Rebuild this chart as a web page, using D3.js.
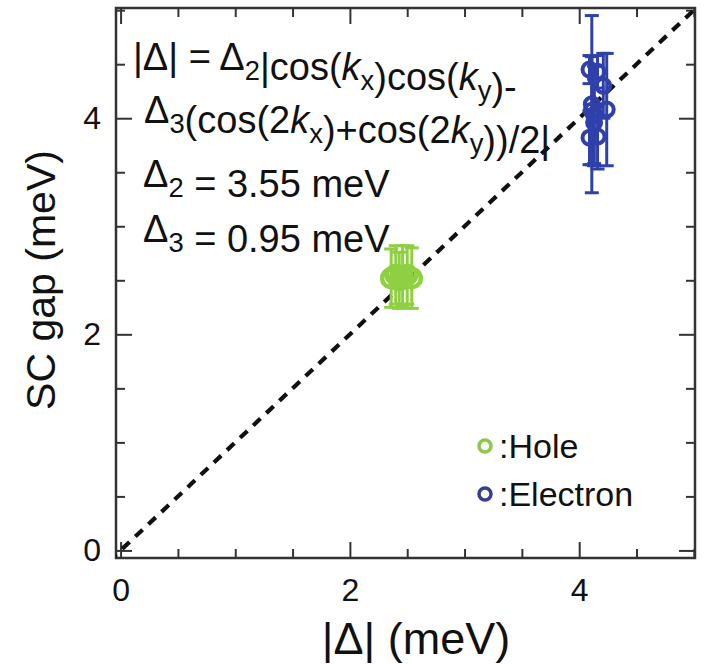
<!DOCTYPE html>
<html>
<head>
<meta charset="utf-8">
<script src="https://cdn.jsdelivr.net/npm/d3@7"></script>
<style>
  html, body { margin: 0; padding: 0; background: #fff; }
  svg { display: block; font-family: "Liberation Sans", Arial, Helvetica, sans-serif; }
</style>
</head>
<body>
<svg id="chart" width="706" height="664"></svg>
<script>
// Hole pockets: |Δ| from the fit vs measured SC gap
const holeX   = [2.36, 2.40, 2.43, 2.46, 2.50, 2.54];
const holeY   = [2.52, 2.55, 2.50, 2.54, 2.55, 2.52];
const holeErr = [0.27, 0.27, 0.26, 0.28, 0.27, 0.28];

// Electron pockets
const elecX   = [4.09, 4.16, 4.11, 4.24, 4.13, 4.09, 4.16, 4.11, 4.21, 4.13];
const elecY   = [4.45, 4.43, 4.07, 4.08, 4.03, 3.82, 3.83, 4.13, 4.30, 3.96];
const elecErr = [0.13, 0.15, 0.50, 0.52, 0.45, 0.25, 0.30, 0.82, 0.30, 0.40];

const majorTicks = [0, 2, 4];
const minorTicks = [0.5, 1, 1.5, 2.5, 3, 3.5, 4.5, 5];

const holeColor = "#8fd043";
const elecColor = "#2f40aa";

const svg = d3.select("#chart");
const pLeft = 116, pRight = 695, pTop = 8, pBottom = 558;

const x = d3.scaleLinear().domain([-0.04, 5.01]).range([pLeft, pRight]);
const y = d3.scaleLinear().domain([-0.07, 5.02]).range([pBottom, pTop]);

const tickFont = 32;

// Axes: ticks point inward on all four sides
function styleAxis(g) {
  g.select(".domain").remove();
  g.selectAll(".tick line").attr("stroke", "#333").attr("stroke-width", 2);
  g.selectAll(".tick text").attr("fill", "#111").attr("font-size", tickFont)
    .attr("font-family", "'Liberation Sans', Arial, sans-serif");
}

svg.append("g").attr("transform", `translate(0,${pBottom})`)
  .call(d3.axisBottom(x).tickValues(minorTicks).tickSize(-9).tickFormat(""))
  .call(styleAxis);
svg.append("g").attr("transform", `translate(0,${pBottom})`)
  .call(d3.axisBottom(x).tickValues(majorTicks).tickSize(-16).tickPadding(20).tickFormat(d3.format("d")))
  .call(styleAxis);
svg.append("g").attr("transform", `translate(0,${pTop})`)
  .call(d3.axisTop(x).tickValues(minorTicks).tickSize(-9).tickFormat(""))
  .call(styleAxis);
svg.append("g").attr("transform", `translate(0,${pTop})`)
  .call(d3.axisTop(x).tickValues(majorTicks).tickSize(-16).tickFormat(""))
  .call(styleAxis);

svg.append("g").attr("transform", `translate(${pLeft},0)`)
  .call(d3.axisLeft(y).tickValues(minorTicks).tickSize(-9).tickFormat(""))
  .call(styleAxis);
svg.append("g").attr("transform", `translate(${pLeft},0)`)
  .call(d3.axisLeft(y).tickValues(majorTicks).tickSize(-16).tickPadding(15).tickFormat(d3.format("d")))
  .call(styleAxis);
svg.append("g").attr("transform", `translate(${pRight},0)`)
  .call(d3.axisRight(y).tickValues(minorTicks).tickSize(-9).tickFormat(""))
  .call(styleAxis);
svg.append("g").attr("transform", `translate(${pRight},0)`)
  .call(d3.axisRight(y).tickValues(majorTicks).tickSize(-16).tickFormat(""))
  .call(styleAxis);

// Plot frame
svg.append("rect")
  .attr("x", pLeft).attr("y", pTop)
  .attr("width", pRight - pLeft).attr("height", pBottom - pTop)
  .attr("fill", "none").attr("stroke", "#333").attr("stroke-width", 2.5);

// Clip for the diagonal guide
svg.append("clipPath").attr("id", "plotClip")
  .append("rect").attr("x", pLeft).attr("y", pTop)
  .attr("width", pRight - pLeft).attr("height", pBottom - pTop);

// y = x guide line
svg.append("line")
  .attr("clip-path", "url(#plotClip)")
  .attr("x1", x(-0.1)).attr("y1", y(-0.1))
  .attr("x2", x(5.1)).attr("y2", y(5.1))
  .attr("stroke", "#111").attr("stroke-width", 4.2)
  .attr("stroke-dasharray", "10,8");

// Error bars + open circles
function drawSeries(xs, ys, es, color, r, sw) {
  const data = xs.map((d, i) => ({ x: d, y: ys[i], e: es[i] }));
  const g = svg.append("g");
  const capW = 7;
  const bars = g.selectAll("g.bar").data(data).join("g").attr("class", "bar")
    .attr("stroke", color).attr("stroke-width", 3).attr("fill", "none");
  bars.append("line")
    .attr("x1", d => x(d.x)).attr("x2", d => x(d.x))
    .attr("y1", d => y(d.y + d.e)).attr("y2", d => y(d.y - d.e));
  bars.append("line")
    .attr("x1", d => x(d.x) - capW).attr("x2", d => x(d.x) + capW)
    .attr("y1", d => y(d.y + d.e)).attr("y2", d => y(d.y + d.e));
  bars.append("line")
    .attr("x1", d => x(d.x) - capW).attr("x2", d => x(d.x) + capW)
    .attr("y1", d => y(d.y - d.e)).attr("y2", d => y(d.y - d.e));
  g.selectAll("circle").data(data).join("circle")
    .attr("cx", d => x(d.x)).attr("cy", d => y(d.y)).attr("r", r)
    .attr("fill", "none").attr("stroke", color).attr("stroke-width", sw);
}
drawSeries(holeX, holeY, holeErr, holeColor, 9, 4.5);
drawSeries(elecX, elecY, elecErr, elecColor, 7, 4);

// Formula annotation
const annFont = 38;
const subScale = 0.72;
const ann = svg.append("g").attr("fill", "#111").attr("font-size", annFont);
function sub(t, s) {
  t.append("tspan").attr("font-size", annFont * subScale).attr("dy", 10).text(s);
  t.append("tspan").attr("dy", -10).text("");
}
let t1 = ann.append("text").attr("x", 133).attr("y", 70);
t1.append("tspan").text("|Δ| = Δ");
sub(t1, "2");
t1.append("tspan").text("|cos(");
t1.append("tspan").attr("font-style", "italic").text("k");
sub(t1, "x");
t1.append("tspan").text(")cos(");
t1.append("tspan").attr("font-style", "italic").text("k");
sub(t1, "y");
t1.append("tspan").text(")-");

let t2 = ann.append("text").attr("x", 144).attr("y", 123);
t2.append("tspan").text("Δ");
sub(t2, "3");
t2.append("tspan").text("(cos(2");
t2.append("tspan").attr("font-style", "italic").text("k");
sub(t2, "x");
t2.append("tspan").text(")+cos(2");
t2.append("tspan").attr("font-style", "italic").text("k");
sub(t2, "y");
t2.append("tspan").text("))/2|");

let t3 = ann.append("text").attr("x", 143).attr("y", 187);
t3.append("tspan").text("Δ");
sub(t3, "2");
t3.append("tspan").text(" = 3.55 meV");

let t4 = ann.append("text").attr("x", 143).attr("y", 242);
t4.append("tspan").text("Δ");
sub(t4, "3");
t4.append("tspan").text(" = 0.95 meV");

// Legend
const legend = [
  { label: ":Hole", color: "#8cc84a", y: 446 },
  { label: ":Electron", color: "#34408c", y: 494 }
];
const lg = svg.append("g");
lg.selectAll("circle").data(legend).join("circle")
  .attr("cx", 485).attr("cy", d => d.y).attr("r", 6)
  .attr("fill", "none").attr("stroke", d => d.color).attr("stroke-width", 3.5);
lg.selectAll("text").data(legend).join("text")
  .attr("x", 499).attr("y", d => d.y + 12)
  .attr("font-size", 34).attr("fill", "#111")
  .text(d => d.label);

// Axis titles
svg.append("text")
  .attr("x", 416).attr("y", 654)
  .attr("text-anchor", "middle").attr("font-size", 45).attr("fill", "#111")
  .text("|Δ| (meV)");
svg.append("text")
  .attr("transform", `translate(55,${(pTop + pBottom) / 2 - 3}) rotate(-90)`)
  .attr("text-anchor", "middle").attr("font-size", 41).attr("fill", "#111")
  .text("SC gap (meV)");
</script>
</body>
</html>
